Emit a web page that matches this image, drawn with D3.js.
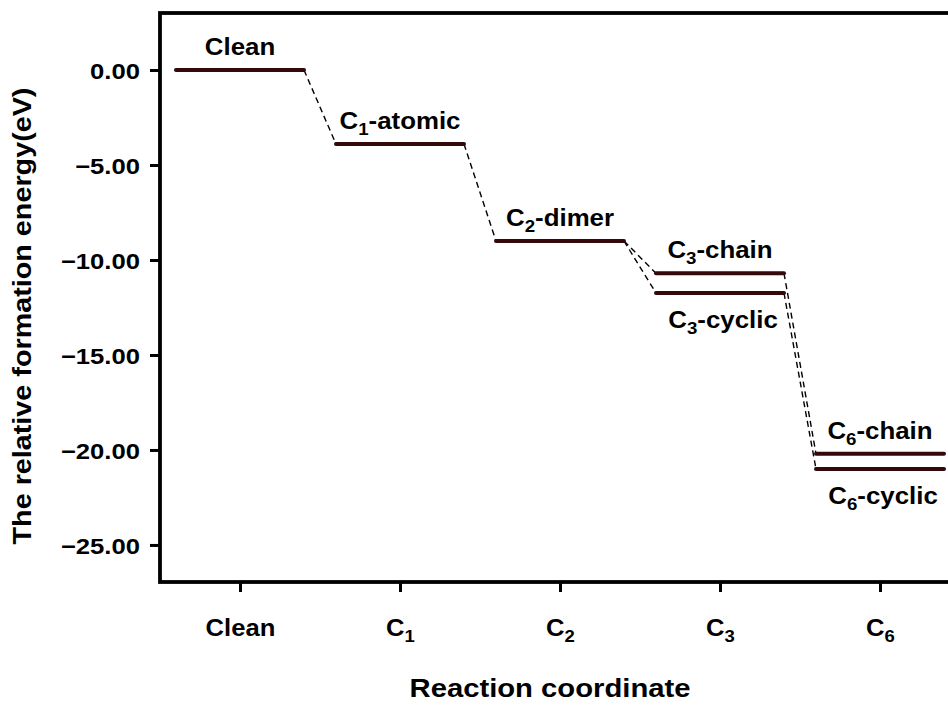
<!DOCTYPE html>
<html>
<head>
<meta charset="utf-8">
<script src="https://cdn.jsdelivr.net/npm/d3@7"></script>
<style>
  html, body { margin: 0; padding: 0; background: #fff; }
  svg { display: block; }
  text { font-family: "Liberation Sans", Arial, "DejaVu Sans", sans-serif; font-weight: bold; fill: #000; }
</style>
</head>
<body>
<svg id="chart" width="948" height="705"></svg>
<script>
// Reaction stages along the x axis
const stages = ["Clean", "C1", "C2", "C3", "C6"];

// Energy levels: name, stage and relative formation energy (eV)
const levelNames  = ["Clean", "C1-atomic", "C2-dimer", "C3-chain", "C3-cyclic", "C6-chain", "C6-cyclic"];
const levelStages = ["Clean", "C1", "C2", "C3", "C3", "C6", "C6"];
const energies    = [0.00, -3.90, -9.00, -10.70, -11.74, -20.20, -21.00];
// label placed above (1) or below (-1) its level line
const labelSide   = [1, 1, 1, 1, -1, 1, -1];

// Dashed connections between consecutive levels (indices into the level arrays)
const links = [[0, 1], [1, 2], [2, 3], [2, 4], [3, 5], [4, 6]];

// Y axis tick values
const yTicks = [0, -5, -10, -15, -20, -25];

const svg = d3.select("#chart");
const plotLeft = 160, plotRight = 960, plotTop = 13, plotBottom = 582;

const x = d3.scalePoint().domain(stages).range([plotLeft, plotRight]).padding(0.5);
const y = d3.scaleLinear().domain([-26.95, 3]).range([plotBottom, plotTop]);
const halfW = x.step() * 0.4;

// Writes "C1-atomic" style strings with a subscript digit after the C
function richText(sel, str, subSize) {
  const m = /^C(\d)(.*)$/.exec(str);
  if (!m) { sel.text(str); return; }
  sel.append("tspan").text("C");
  sel.append("tspan").attr("font-size", subSize).attr("dy", 6).text(m[1]);
  if (m[2]) sel.append("tspan").attr("dy", -6).text(m[2]);
}

// Y axis
const gy = svg.append("g").attr("transform", `translate(${plotLeft},0)`)
  .call(d3.axisLeft(y).tickValues(yTicks).tickFormat(d3.format(".2f")).tickSize(10));
gy.select(".domain").remove();
gy.selectAll(".tick line").attr("stroke", "#000").attr("stroke-width", 3);
gy.selectAll(".tick text")
  .attr("x", null).attr("dy", "0.36em")
  .attr("transform", "translate(-20,0) scale(1.14,1)")
  .attr("font-size", 22.5).attr("font-family", null).attr("fill", "#000");

// X axis
const gx = svg.append("g").attr("transform", `translate(0,${plotBottom})`)
  .call(d3.axisBottom(x).tickSize(10).tickFormat(""));
gx.select(".domain").remove();
gx.selectAll(".tick line").attr("stroke", "#000").attr("stroke-width", 3);
gx.selectAll(".tick").each(function (d) {
  const t = d3.select(this).append("text")
    .attr("text-anchor", "middle")
    .attr("font-size", 23.5)
    .attr("font-family", null)
    .attr("fill", "#000")
    .attr("transform", "translate(0,54) scale(1.09,1)");
  richText(t, d, 17);
});

// Plot frame
svg.append("rect")
  .attr("x", plotLeft).attr("y", plotTop)
  .attr("width", plotRight - plotLeft).attr("height", plotBottom - plotTop)
  .attr("fill", "none").attr("stroke", "#000").attr("stroke-width", 3.8);

// Dashed connectors between levels
svg.append("g").selectAll("line").data(links).join("line")
  .attr("x1", d => x(levelStages[d[0]]) + halfW)
  .attr("y1", d => y(energies[d[0]]))
  .attr("x2", d => x(levelStages[d[1]]) - halfW)
  .attr("y2", d => y(energies[d[1]]))
  .attr("stroke", "#000").attr("stroke-width", 1.4)
  .attr("stroke-dasharray", "6,4");

// Energy level bars
svg.append("g").selectAll("line").data(energies).join("line")
  .attr("x1", (d, i) => x(levelStages[i]) - halfW)
  .attr("x2", (d, i) => x(levelStages[i]) + halfW)
  .attr("y1", d => y(d)).attr("y2", d => y(d))
  .attr("stroke", "#360909").attr("stroke-width", 4)
  .attr("stroke-linecap", "round");

// Level labels
svg.append("g").selectAll("text").data(levelNames).join("text")
  .attr("text-anchor", "middle")
  .attr("font-size", 23.5)
  .attr("transform", (d, i) => {
    const ly = y(energies[i]) + (labelSide[i] > 0 ? -15 : 35);
    return `translate(${x(levelStages[i]) + (labelSide[i] > 0 ? 0 : 3)},${ly}) scale(1.1,1)`;
  })
  .each(function (d) { richText(d3.select(this), d, 17); });

// Axis titles
svg.append("text")
  .attr("text-anchor", "middle").attr("font-size", 25)
  .attr("transform", `translate(550,697) scale(1.17,1)`)
  .text("Reaction coordinate");

svg.append("text")
  .attr("text-anchor", "middle").attr("font-size", 25)
  .attr("transform", `translate(31,316) rotate(-90) scale(1.15,1)`)
  .text("The relative formation energy(eV)");
</script>
</body>
</html>
